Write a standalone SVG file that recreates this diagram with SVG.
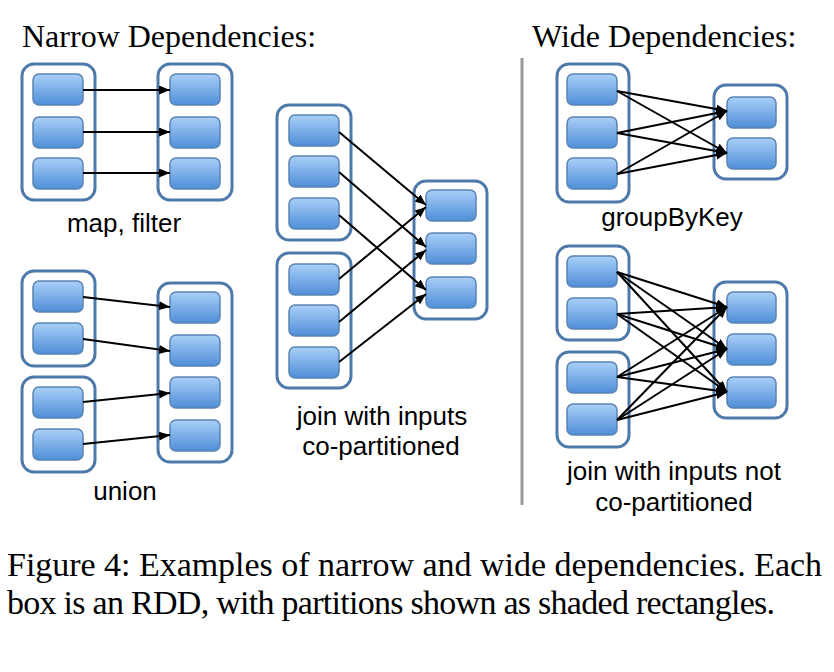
<svg xmlns="http://www.w3.org/2000/svg" width="834" height="672" viewBox="0 0 834 672">
<defs>
<linearGradient id="pg" x1="0" y1="0" x2="0" y2="1">
<stop offset="0" stop-color="#a9cff8"/>
<stop offset="1" stop-color="#4f8ed8"/>
</linearGradient>
<marker id="ah" markerUnits="userSpaceOnUse" markerWidth="12" markerHeight="10" refX="11" refY="4.5" orient="auto">
<path d="M0,0 L11,4.5 L0,9 z" fill="#000"/>
</marker>
<style>
.box{fill:#fff;stroke:#4e7aab;stroke-width:3}
.p{fill:url(#pg);stroke:#5a84b3;stroke-width:1.5}
.e line{stroke:#000;stroke-width:2;marker-end:url(#ah)}
.t{font-family:"Liberation Serif","Times New Roman",serif;font-size:32px;fill:#000}
.l{font-family:"Liberation Sans",Arial,sans-serif;font-size:26px;fill:#000;text-anchor:middle}
.c{font-family:"Liberation Serif","Times New Roman",serif;font-size:34px;fill:#000}
</style>
</defs>
<rect width="834" height="672" fill="#fff"/>
<text class="t" x="22" y="47">Narrow Dependencies:</text>
<text class="t" x="532" y="47">Wide Dependencies:</text>
<line x1="522" y1="58" x2="522" y2="505" stroke="#999" stroke-width="3"/>

<!-- map, filter -->
<g id="mapIn">
<rect class="box" x="22" y="64" width="73" height="136" rx="12"/>
<rect class="p" x="33" y="74" width="50" height="31" rx="6"/>
<rect class="p" x="33" y="117" width="50" height="31" rx="6"/>
<rect class="p" x="33" y="158" width="50" height="31" rx="6"/>
</g>
<g id="mapOut">
<rect class="box" x="158" y="64" width="74" height="136" rx="12"/>
<rect class="p" x="170" y="74" width="50" height="31" rx="6"/>
<rect class="p" x="170" y="117" width="50" height="31" rx="6"/>
<rect class="p" x="170" y="158" width="50" height="31" rx="6"/>
</g>

<!-- union -->
<g id="unionIn1">
<rect class="box" x="22" y="271" width="73" height="95" rx="12"/>
<rect class="p" x="33" y="281" width="50" height="31" rx="6"/>
<rect class="p" x="33" y="323" width="50" height="31" rx="6"/>
</g>
<g id="unionIn2">
<rect class="box" x="22" y="377" width="73" height="95" rx="12"/>
<rect class="p" x="33" y="387" width="50" height="31" rx="6"/>
<rect class="p" x="33" y="429" width="50" height="31" rx="6"/>
</g>
<g id="unionOut">
<rect class="box" x="158" y="283" width="74" height="179" rx="12"/>
<rect class="p" x="170" y="292" width="50" height="31" rx="6"/>
<rect class="p" x="170" y="335" width="50" height="31" rx="6"/>
<rect class="p" x="170" y="377" width="50" height="31" rx="6"/>
<rect class="p" x="170" y="420" width="50" height="31" rx="6"/>
</g>

<!-- join co-partitioned -->
<g id="joinIn1">
<rect class="box" x="277" y="105" width="74" height="135" rx="12"/>
<rect class="p" x="289" y="115" width="50" height="31" rx="6"/>
<rect class="p" x="289" y="156" width="50" height="31" rx="6"/>
<rect class="p" x="289" y="198" width="50" height="31" rx="6"/>
</g>
<g id="joinIn2">
<rect class="box" x="277" y="253" width="74" height="135" rx="12"/>
<rect class="p" x="289" y="264" width="50" height="31" rx="6"/>
<rect class="p" x="289" y="305" width="50" height="31" rx="6"/>
<rect class="p" x="289" y="347" width="50" height="31" rx="6"/>
</g>
<g id="joinOut">
<rect class="box" x="414" y="181" width="73" height="138" rx="12"/>
<rect class="p" x="426" y="190" width="50" height="31" rx="6"/>
<rect class="p" x="426" y="233" width="50" height="31" rx="6"/>
<rect class="p" x="426" y="277" width="50" height="31" rx="6"/>
</g>

<!-- groupByKey -->
<g id="gbkIn">
<rect class="box" x="557" y="64" width="72" height="138" rx="12"/>
<rect class="p" x="567" y="74" width="50" height="31" rx="6"/>
<rect class="p" x="567" y="117" width="50" height="31" rx="6"/>
<rect class="p" x="567" y="158" width="50" height="31" rx="6"/>
</g>
<g id="gbkOut">
<rect class="box" x="714" y="85" width="73" height="94" rx="12"/>
<rect class="p" x="727" y="97" width="49" height="31" rx="6"/>
<rect class="p" x="727" y="138" width="49" height="31" rx="6"/>
</g>

<!-- join not co-partitioned -->
<g id="wjoinIn1">
<rect class="box" x="557" y="246" width="72" height="94" rx="12"/>
<rect class="p" x="567" y="256" width="50" height="31" rx="6"/>
<rect class="p" x="567" y="298" width="50" height="31" rx="6"/>
</g>
<g id="wjoinIn2">
<rect class="box" x="557" y="352" width="72" height="95" rx="12"/>
<rect class="p" x="567" y="362" width="50" height="31" rx="6"/>
<rect class="p" x="567" y="404" width="50" height="31" rx="6"/>
</g>
<g id="wjoinOut">
<rect class="box" x="714" y="282" width="73" height="136" rx="12"/>
<rect class="p" x="727" y="292" width="49" height="31" rx="6"/>
<rect class="p" x="727" y="334" width="49" height="31" rx="6"/>
<rect class="p" x="727" y="377" width="49" height="31" rx="6"/>
</g>

<g id="connectors" class="e">
<line x1="83" y1="90" x2="170" y2="90"/>
<line x1="83" y1="132" x2="170" y2="132"/>
<line x1="83" y1="173" x2="170" y2="173"/>

<line x1="83" y1="297" x2="170" y2="307"/>
<line x1="83" y1="339" x2="170" y2="351"/>
<line x1="83" y1="402" x2="170" y2="393"/>
<line x1="83" y1="444" x2="170" y2="435"/>

<line x1="339" y1="132" x2="426" y2="205"/>
<line x1="339" y1="172" x2="426" y2="247"/>
<line x1="339" y1="215" x2="426" y2="290"/>
<line x1="339" y1="279" x2="426" y2="207"/>
<line x1="339" y1="322" x2="426" y2="250"/>
<line x1="339" y1="362" x2="426" y2="294"/>

<line x1="617" y1="91" x2="727" y2="111"/>
<line x1="617" y1="91" x2="727" y2="153"/>
<line x1="617" y1="133" x2="727" y2="111"/>
<line x1="617" y1="133" x2="727" y2="153"/>
<line x1="617" y1="174" x2="727" y2="111"/>
<line x1="617" y1="174" x2="727" y2="153"/>

<line x1="617" y1="272" x2="727" y2="307"/>
<line x1="617" y1="272" x2="727" y2="349"/>
<line x1="617" y1="272" x2="727" y2="392"/>
<line x1="617" y1="314" x2="727" y2="307"/>
<line x1="617" y1="314" x2="727" y2="349"/>
<line x1="617" y1="314" x2="727" y2="392"/>
<line x1="617" y1="377" x2="727" y2="307"/>
<line x1="617" y1="377" x2="727" y2="349"/>
<line x1="617" y1="377" x2="727" y2="392"/>
<line x1="617" y1="420" x2="727" y2="307"/>
<line x1="617" y1="420" x2="727" y2="349"/>
<line x1="617" y1="420" x2="727" y2="392"/>
</g>

<text class="l" x="124" y="232">map, filter</text>
<text class="l" x="125" y="500">union</text>
<text class="l" x="382" y="425">join with inputs</text>
<text class="l" x="381" y="455">co-partitioned</text>
<text class="l" x="672" y="226">groupByKey</text>
<text class="l" x="674" y="480">join with inputs not</text>
<text class="l" x="674" y="511">co-partitioned</text>

<text class="c" x="7" y="576" textLength="815" lengthAdjust="spacing">Figure 4: Examples of narrow and wide dependencies. Each</text>
<text class="c" x="7" y="614" textLength="768" lengthAdjust="spacing">box is an RDD, with partitions shown as shaded rectangles.</text>
</svg>
